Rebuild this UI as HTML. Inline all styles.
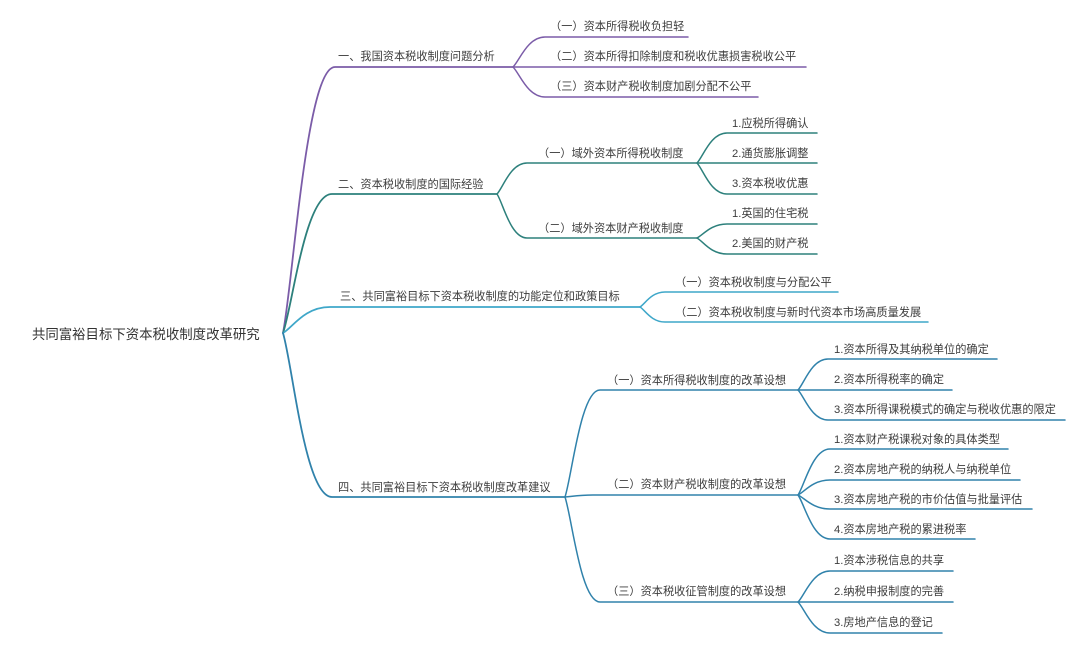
<!DOCTYPE html>
<html>
<head>
<meta charset="utf-8">
<style>
  html, body { margin:0; padding:0; background:#fff; }
  svg { display:block; }
  text { font-family: "Liberation Sans", "Noto Sans CJK SC", "WenQuanYi Zen Hei", sans-serif; fill:#3c3c3c; font-size:11.2px; }
  .root { font-size:13.4px; fill:#333; }
  path { fill:none; stroke-linecap:round; stroke-linejoin:round; }
  .b1 { stroke:#7b5ca8; }
  .b2 { stroke:#2d807c; }
  .b3 { stroke:#3fa7c9; }
  .b4 { stroke:#3082ab; }
  .m { stroke-width:1.8; }
  .s { stroke-width:1.5; }
</style>
</head>
<body>
<svg width="1080" height="650" viewBox="0 0 1080 650" xmlns="http://www.w3.org/2000/svg">
  <rect width="1080" height="650" fill="#fff"/>

  <!-- Root -->
  <text class="root" x="32" y="339">共同富裕目标下资本税收制度改革研究</text>

  <!-- Branch 1 (purple) -->
  <path class="b1 m" d="M283,333 C293.4,279.8 306.4,67 335,67 L513,67"/>
  <text x="338" y="60">一、我国资本税收制度问题分析</text>
  <path class="b1 s" d="M513,67 C519.4,61 527.4,37 545,37 L688,37"/>
  <path class="b1 s" d="M513,67 L806,67"/>
  <path class="b1 s" d="M513,67 C519.4,73 527.4,97 545,97 L758,97"/>
  <text x="550" y="30">（一）资本所得税收负担轻</text>
  <text x="550" y="60">（二）资本所得扣除制度和税收优惠损害税收公平</text>
  <text x="550" y="90">（三）资本财产税收制度加剧分配不公平</text>

  <!-- Branch 2 (teal) -->
  <path class="b2 m" d="M283,333 C292.8,305.2 305.05,194 332,194 L497,194"/>
  <text x="338" y="188">二、资本税收制度的国际经验</text>
  <path class="b2 s" d="M497,194 C503,187.8 510.5,163 527,163 L697,163"/>
  <path class="b2 s" d="M497,194 C503,202.8 510.5,238 527,238 L697,238"/>
  <text x="538" y="157">（一）域外资本所得税收制度</text>
  <text x="538" y="232">（二）域外资本财产税收制度</text>

  <path class="b2 s" d="M697,163 C703,157 710.5,133 727,133 L817,133"/>
  <path class="b2 s" d="M697,163 L817,163"/>
  <path class="b2 s" d="M697,163 C703,169.2 710.5,194 727,194 L817,194"/>
  <text x="732" y="127">1.应税所得确认</text>
  <text x="732" y="157">2.通货膨胀调整</text>
  <text x="732" y="187">3.资本税收优惠</text>

  <path class="b2 s" d="M697,238 C703,235.2 710.5,224 727,224 L817,224"/>
  <path class="b2 s" d="M697,238 C703,241.2 710.5,254 727,254 L817,254"/>
  <text x="732" y="217">1.英国的住宅税</text>
  <text x="732" y="247">2.美国的财产税</text>

  <!-- Branch 3 (light blue) -->
  <path class="b3 m" d="M283,333 C292.4,327.8 304.15,307 330,307 L640,307"/>
  <text x="340" y="300">三、共同富裕目标下资本税收制度的功能定位和政策目标</text>
  <path class="b3 s" d="M640,307 C645,304 651.25,292 665,292 L838,292"/>
  <path class="b3 s" d="M640,307 C645,310 651.25,322 665,322 L928,322"/>
  <text x="675" y="286">（一）资本税收制度与分配公平</text>
  <text x="675" y="316">（二）资本税收制度与新时代资本市场高质量发展</text>

  <!-- Branch 4 (blue) -->
  <path class="b4 m" d="M283,333 C292.8,365.8 305.05,497 332,497 L565,497"/>
  <text x="338" y="491">四、共同富裕目标下资本税收制度改革建议</text>
  <path class="b4 s" d="M565,497 C572,475.6 580.75,390 600,390 L798,390"/>
  <path class="b4 s" d="M565,497 C575,496 580,495 593,495 L798,495"/>
  <path class="b4 s" d="M565,497 C572,518 580.75,602 600,602 L798,602"/>
  <text x="607" y="384">（一）资本所得税收制度的改革设想</text>
  <text x="607" y="488">（二）资本财产税收制度的改革设想</text>
  <text x="607" y="595">（三）资本税收征管制度的改革设想</text>

  <path class="b4 s" d="M798,390 C804,383.8 811.5,359 828,359 L997,359"/>
  <path class="b4 s" d="M798,390 L952,390"/>
  <path class="b4 s" d="M798,390 C804,396 811.5,420 828,420 L1065,420"/>
  <text x="834" y="353">1.资本所得及其纳税单位的确定</text>
  <text x="834" y="383">2.资本所得税率的确定</text>
  <text x="834" y="413">3.资本所得课税模式的确定与税收优惠的限定</text>

  <path class="b4 s" d="M798,495 C804.4,485.8 812.4,449 830,449 L1008,449"/>
  <path class="b4 s" d="M798,495 C804.4,492 812.4,480 830,480 L1020,480"/>
  <path class="b4 s" d="M798,495 C804.4,497.8 812.4,509 830,509 L1032,509"/>
  <path class="b4 s" d="M798,495 C804.4,503.8 812.4,539 830,539 L975,539"/>
  <text x="834" y="443">1.资本财产税课税对象的具体类型</text>
  <text x="834" y="473">2.资本房地产税的纳税人与纳税单位</text>
  <text x="834" y="503">3.资本房地产税的市价估值与批量评估</text>
  <text x="834" y="533">4.资本房地产税的累进税率</text>

  <path class="b4 s" d="M798,602 C804.4,595.8 812.4,571 830,571 L953,571"/>
  <path class="b4 s" d="M798,602 L953,602"/>
  <path class="b4 s" d="M798,602 C804.4,608.2 812.4,633 830,633 L942,633"/>
  <text x="834" y="564">1.资本涉税信息的共享</text>
  <text x="834" y="595">2.纳税申报制度的完善</text>
  <text x="834" y="626">3.房地产信息的登记</text>
</svg>
</body>
</html>
